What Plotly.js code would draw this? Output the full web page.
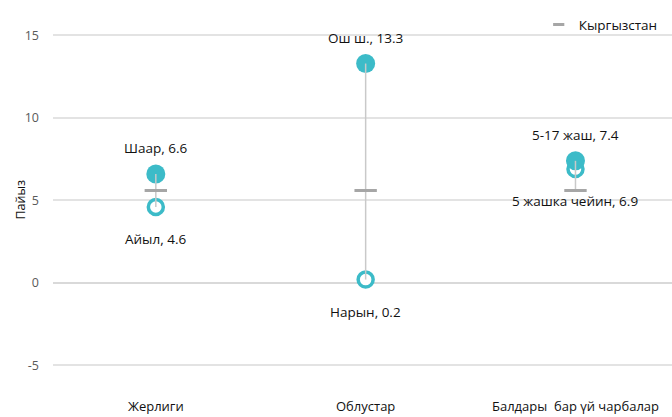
<!DOCTYPE html>
<html><head><meta charset="utf-8">
<script src="https://cdn.plot.ly/plotly-3.0.1.min.js"></script>
<style>html,body{margin:0;padding:0;background:#fff}#chart{width:672px;height:417px}</style>
</head><body><div id="chart"></div>
<script>
const categories = ["Жерлиги", "Облустар", "Балдары  бар үй чарбалар"];
const highLabels = ["Шаар", "Ош ш.", "5-17 жаш"];
const highValues = [6.6, 13.3, 7.4];
const lowLabels = ["Айыл", "Нарын", "5 жашка чейин"];
const lowValues = [4.6, 0.2, 6.9];
const kgValues = [5.6, 5.6, 5.6];
const kgName = "Кыргызстан";
const yTitle = "Пайыз";
const yTicks = [-5, 0, 5, 10, 15];

const teal = "#3cbbc8";
const font = "'Open Sans', 'DejaVu Sans', sans-serif";

const lx = [], ly = [];
categories.forEach((c, i) => {
  const vals = [highValues[i], lowValues[i], kgValues[i]];
  lx.push(c, c, null);
  ly.push(Math.min(...vals), Math.max(...vals), null);
});

const kgColor = "#a6a6a6";
const traces = [
  {type: "scatter", mode: "markers", x: categories, y: lowValues, showlegend: false, hoverinfo: "skip",
   marker: {symbol: "circle", size: 15, color: "#ffffff", line: {color: teal, width: 3.5}}},
  {type: "scatter", mode: "markers", x: categories, y: highValues, showlegend: false, hoverinfo: "skip",
   marker: {symbol: "circle", size: 19, color: teal, line: {width: 0}}},
  {type: "scatter", mode: "lines", x: lx, y: ly, showlegend: false, hoverinfo: "skip",
   line: {color: "#c9c9c9", width: 1.5}},
  {type: "scatter", mode: "markers", x: categories, y: kgValues, name: kgName, showlegend: false,
   marker: {symbol: "line-ew", size: 16, color: kgColor, line: {color: kgColor, width: 3}}},
  // legend entry (smaller dash as in the reference)
  {type: "scatter", mode: "markers", x: [null], y: [null], name: kgName, showlegend: true,
   marker: {symbol: "line-ew", size: 8, color: kgColor, line: {color: kgColor, width: 3}}}
];

const labelFont = {family: font, size: 13.5, color: "#111"};
const annotations = [];
categories.forEach((c, i) => {
  annotations.push({x: c, y: highValues[i], xref: "x", yref: "y", showarrow: false,
    text: highLabels[i] + ", " + highValues[i], yshift: 26, font: labelFont});
  annotations.push({x: c, y: lowValues[i], xref: "x", yref: "y", showarrow: false,
    text: lowLabels[i] + ", " + lowValues[i], yshift: -32, font: labelFont});
});
annotations.push({x: 0, xref: "paper", xanchor: "center", xshift: -33, y: 0.52, yref: "paper", yanchor: "middle",
  showarrow: false, textangle: -90, text: yTitle, font: {family: font, size: 12.5, color: "#111"}});

const layout = {
  width: 672, height: 417,
  margin: {l: 53, r: 0, t: 19, b: 22},
  paper_bgcolor: "#fff", plot_bgcolor: "#fff",
  font: {family: font, size: 12, color: "#595959"},
  xaxis: {type: "category", range: [-0.49, 2.46], showgrid: false, zeroline: false, showline: false,
    ticks: "", tickfont: {family: font, size: 13, color: "#111"}, ticklabelstandoff: 2},
  yaxis: {range: [-6.8, 16], tickvals: yTicks, ticktext: yTicks.map(String), showgrid: true, gridcolor: "#e3e3e3", gridwidth: 2,
    zeroline: true, zerolinecolor: "#d9d9d9", zerolinewidth: 2, showline: false,
    ticks: "", tickfont: {family: font, size: 12.5, color: "#595959"}, ticklabelstandoff: 13},
  showlegend: true,
  legend: {x: 0.985, xanchor: "right", y: 0.985, yanchor: "middle", orientation: "h", bgcolor: "rgba(0,0,0,0)",
    font: {family: font, size: 13.5, color: "#111"}, itemwidth: 30},
  annotations: annotations
};

Plotly.newPlot("chart", traces, layout, {displayModeBar: false, staticPlot: true});
</script></body></html>
